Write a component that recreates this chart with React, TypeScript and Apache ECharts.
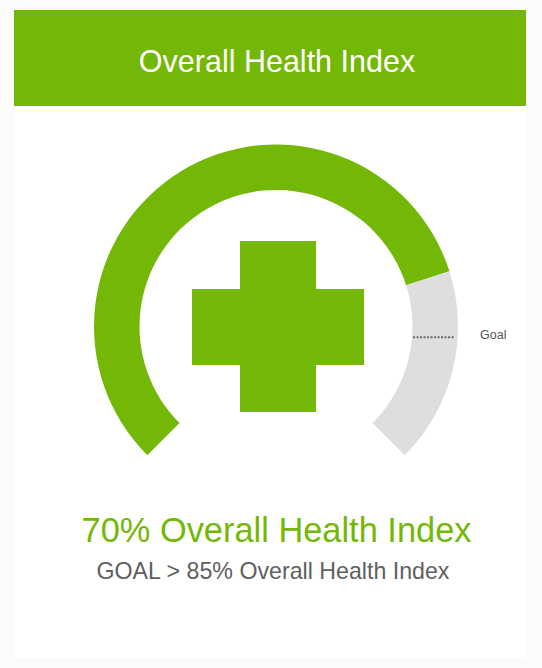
import React, { useEffect, useRef } from "react";
import * as echarts from "echarts";

const TITLE = "Overall Health Index";
const HEADLINE = "70% Overall Health Index";
const SUBLINE = "GOAL > 85% Overall Health Index";
const GOAL_LABEL = "Goal";
const ARC_CATEGORY = ["Health"];
const GREEN_ARC = [76.8];
const GREY_ARC = [23.2];
const GOAL_LINE_ANGLES = [85.0, 84.6];
const GOAL_LINE_RADII = [137.5, 179];

const GREEN = "#74b807";
const FONT = '"Liberation Sans", Arial, sans-serif';
const CX = 276;
const CY = 326.5;
const R_OUT = 182;
const R_IN = 136.5;

export default function App() {
  const ref = useRef<HTMLDivElement>(null);
  useEffect(() => {
    const chart = echarts.init(ref.current!, undefined, { renderer: "svg" });
    const angleBase = {
      type: "value" as const,
      min: 0,
      max: (100 * 360) / 270,
      startAngle: 225,
      clockwise: true,
      show: false,
    };
    chart.setOption({
      animation: false,
      backgroundColor: "#fbfbfb",
      polar: [
        { center: [CX, CY], radius: [R_IN, R_OUT] },
        { center: [CX, CY], radius: [0, R_OUT] },
      ],
      angleAxis: [
        { ...angleBase, polarIndex: 0 },
        { ...angleBase, polarIndex: 1 },
      ],
      radiusAxis: [
        { polarIndex: 0, type: "category", data: ARC_CATEGORY, show: false },
        { polarIndex: 1, type: "value", min: 0, max: R_OUT, show: false },
      ],
      graphic: [
        { type: "rect", z: -1, shape: { x: 14, y: 10, width: 512, height: 648 }, style: { fill: "#ffffff" } },
        { type: "rect", shape: { x: 14, y: 10, width: 512, height: 96 }, style: { fill: GREEN } },
        { type: "text", x: 277, y: 61, style: { text: TITLE, fill: "#ffffff", font: `30.5px ${FONT}`, textAlign: "center", textVerticalAlign: "middle" } },
        { type: "rect", shape: { x: 240, y: 241, width: 76, height: 171 }, style: { fill: GREEN } },
        { type: "rect", shape: { x: 192, y: 289, width: 172, height: 76 }, style: { fill: GREEN } },
        { type: "text", x: 480, y: 335, style: { text: GOAL_LABEL, fill: "#555555", font: `12.5px ${FONT}`, textAlign: "left", textVerticalAlign: "middle" } },
        { type: "text", x: 276.5, y: 530, style: { text: HEADLINE, fill: GREEN, font: `34.4px ${FONT}`, textAlign: "center", textVerticalAlign: "middle" } },
        { type: "text", x: 273, y: 570.5, style: { text: SUBLINE, fill: "#606060", font: `23.2px ${FONT}`, textAlign: "center", textVerticalAlign: "middle" } },
      ],
      series: [
        {
          type: "bar", coordinateSystem: "polar", polarIndex: 0, stack: "arc",
          barWidth: "100%", data: GREEN_ARC, itemStyle: { color: GREEN }, silent: true,
        },
        {
          type: "bar", coordinateSystem: "polar", polarIndex: 0, stack: "arc",
          barWidth: "100%", data: GREY_ARC, itemStyle: { color: "#dedede" }, silent: true,
        },
        {
          type: "line", coordinateSystem: "polar", polarIndex: 1, symbol: "none", z: 5,
          data: GOAL_LINE_RADII.map((r, i) => [r, GOAL_LINE_ANGLES[i]]),
          lineStyle: { color: "#6a6a6a", width: 2, type: [2, 1.5] },
          silent: true,
        },
      ],
    });
    return () => chart.dispose();
  }, []);
  return <div ref={ref} style={{ position: "fixed", left: 0, top: 0, width: 542, height: 668 }} />;
}
